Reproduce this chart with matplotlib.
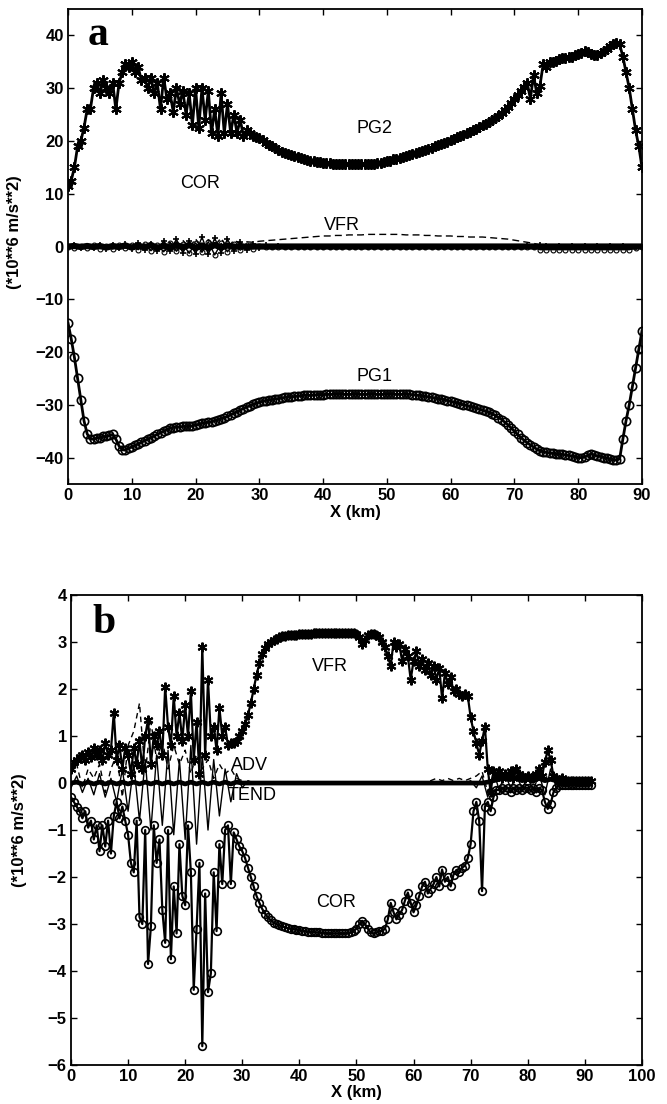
import numpy as np
import matplotlib.pyplot as plt

plt.rcParams['font.family'] = ['Liberation Sans', 'DejaVu Sans']

# grilles en x (km)
x_a = np.arange(0, 90.01, 0.5)
x_a1 = np.arange(0, 90.01, 1.0)
x_b = np.arange(0, 91.01, 0.5)
x_b1 = np.arange(0, 91.01, 1.0)

# panneau a : termes du bilan (*10**6 m/s**2)
pg2_a = [11.5, 12.5, 15.0, 19.0, 20.0, 22.5, 26.0, 26.0, 30.0, 31.0,
         29.0, 31.5, 30.0, 29.0, 31.0, 26.0, 31.0, 33.0, 34.5, 34.0,
         35.0, 33.0, 34.0, 31.5, 32.0, 30.0, 32.0, 29.0, 31.0, 26.0,
         32.0, 28.0, 29.0, 25.5, 30.0, 27.0, 29.5, 25.0, 29.0, 23.0,
         30.0, 22.5, 30.0, 24.0, 29.5, 21.5, 26.0, 21.0, 29.0, 21.5,
         27.0, 21.5, 25.0, 21.5, 24.0, 21.0, 22.0, 21.5, 21.0, 20.8,
         20.5, 20.1, 19.7, 19.3, 19.0, 18.6, 18.3, 18.0, 17.8, 17.5,
         17.3, 17.1, 17.0, 16.8, 16.6, 16.4, 16.3, 16.2, 16.1, 16.0,
         15.9, 15.8, 15.8, 15.7, 15.7, 15.6, 15.6, 15.6, 15.6, 15.6,
         15.6, 15.6, 15.6, 15.6, 15.6, 15.7, 15.7, 15.8, 15.9, 16.0,
         16.2, 16.3, 16.5, 16.6, 16.8, 17.0, 17.1, 17.3, 17.5, 17.7,
         17.9, 18.1, 18.3, 18.5, 18.7, 19.0, 19.2, 19.4, 19.7, 19.9,
         20.2, 20.4, 20.7, 21.0, 21.2, 21.5, 21.7, 22.0, 22.3, 22.6,
         23.0, 23.3, 23.6, 24.0, 24.3, 24.8, 25.3, 25.9, 26.5, 27.2,
         28.0, 28.8, 29.5, 30.2, 31.0, 28.0, 32.5, 29.0, 30.5, 34.5,
         34.0, 35.0, 35.0, 35.2, 35.5, 35.7, 35.8, 35.9, 36.0, 36.2,
         36.5, 36.7, 37.0, 36.8, 36.5, 36.3, 36.3, 36.6, 37.0, 37.5,
         38.0, 38.3, 38.5, 38.3, 36.0, 33.0, 30.0, 26.0, 22.0, 19.0,
         15.0]

pg1_a = [-14.5, -17.5, -21.0, -25.0, -29.0, -33.0, -35.5, -36.5, -36.5, -36.3,
         -36.2, -36.0, -36.0, -35.8, -35.6, -36.5, -37.8, -38.5, -38.6, -38.2,
         -38.0, -37.7, -37.4, -37.1, -36.8, -36.5, -36.2, -35.9, -35.6, -35.3,
         -35.0, -34.7, -34.4, -34.3, -34.2, -34.2, -34.1, -34.1, -34.1, -34.0,
         -33.8, -33.7, -33.5, -33.4, -33.3, -33.2, -33.0, -32.8, -32.6, -32.4,
         -32.2, -31.9, -31.6, -31.3, -31.0, -30.7, -30.4, -30.2, -29.9, -29.7,
         -29.5, -29.3, -29.2, -29.1, -29.0, -28.9, -28.8, -28.7, -28.6, -28.5,
         -28.5, -28.4, -28.3, -28.3, -28.2, -28.2, -28.2, -28.1, -28.1, -28.1,
         -28.1, -28.0, -28.0, -28.0, -28.0, -28.0, -28.0, -28.0, -28.0, -28.0,
         -28.0, -28.0, -28.0, -28.0, -28.0, -28.0, -28.0, -28.0, -28.0, -28.0,
         -28.0, -28.0, -28.0, -28.0, -28.0, -28.0, -28.0, -28.0, -28.1, -28.1,
         -28.2, -28.3, -28.4, -28.5, -28.6, -28.7, -28.8, -28.9, -29.0, -29.2,
         -29.3, -29.5, -29.6, -29.8, -30.0, -30.1, -30.3, -30.4, -30.6, -30.8,
         -31.0, -31.2, -31.4, -31.7, -32.0, -32.4, -32.8, -33.3, -33.8, -34.4,
         -35.0, -35.6, -36.2, -36.7, -37.2, -37.6, -38.0, -38.4, -38.7, -38.9,
         -39.0, -39.1, -39.2, -39.3, -39.4, -39.4, -39.5, -39.6, -39.7, -39.8,
         -40.0, -40.0, -39.9, -39.6, -39.3, -39.5, -39.7, -39.8, -40.0, -40.1,
         -40.3, -40.4, -40.5, -40.2, -36.5, -33.0, -30.0, -26.5, -23.0, -19.5,
         -16.0]

vfr_a = [0.0, 0.1, -0.2, 0.2, 0.1, -0.1, 0.3, 0.0, 0.2, -0.2,
         0.3, -0.3, 0.5, -0.4, 0.6, -0.2, 0.8, -0.5, 1.2, -0.3,
         1.5, -0.6, 1.3, 0.2, 1.6, -0.3, 1.2, 0.6, 0.9, 0.8,
         1.0, 1.1, 1.2, 1.3, 1.4, 1.5, 1.6, 1.7, 1.8, 1.9,
         2.0, 2.0, 2.1, 2.1, 2.2, 2.2, 2.2, 2.3, 2.3, 2.3,
         2.3, 2.3, 2.3, 2.2, 2.2, 2.2, 2.1, 2.1, 2.0, 2.0,
         2.0, 1.9, 1.9, 1.8, 1.8, 1.8, 1.7, 1.6, 1.5, 1.4,
         1.2, 1.0, 0.8, 0.6, 0.3, 0.2, 0.2, 0.1, 0.1, 0.1,
         0.1, 0.1, 0.1, 0.1, 0.1, 0.1, 0.1, 0.1, 0.0, 0.0,
         0.0]

adv_a = [0.0, 0.2, -0.3, 0.1, -0.2, 0.3, -0.4, 0.2, -0.3, 0.4,
         -0.5, 0.6, -0.7, 0.5, -0.9, 1.1, -0.8, 1.4, -1.2, 1.0,
         -1.4, 1.8, -1.5, 1.6, -1.2, 1.4, -0.9, 0.8, -0.6, 0.5,
         -0.3, 0.2, -0.1, 0.1, 0.0, 0.0, 0.0, 0.0, 0.0, 0.0,
         0.0, 0.0, 0.0, 0.0, 0.0, 0.0, 0.0, 0.0, 0.0, 0.0,
         0.0, 0.0, 0.0, 0.0, 0.0, 0.0, 0.0, 0.0, 0.0, 0.0,
         0.0, 0.0, 0.0, 0.0, 0.0, 0.0, 0.0, 0.0, 0.0, 0.0,
         0.0, 0.0, 0.1, -0.1, 0.2, 0.1, 0.0, 0.1, 0.0, 0.1,
         0.0, 0.1, 0.0, 0.1, 0.0, 0.1, 0.0, 0.1, 0.0, 0.0,
         0.0]

tend_a = [0.0, -0.2, 0.1, -0.3, 0.2, -0.4, 0.1, -0.5, 0.3, -0.3,
          0.2, -0.6, 0.4, -0.8, 0.3, -1.0, 0.6, -0.9, 0.5, -1.3,
          0.7, -1.1, 0.9, -1.6, 0.6, -1.0, 0.5, -0.7, 0.3, -0.4,
          0.1, -0.1, 0.0, 0.0, 0.0, 0.0, 0.0, 0.0, 0.0, 0.0,
          0.0, 0.0, 0.0, 0.0, 0.0, 0.0, 0.0, 0.0, 0.0, 0.0,
          0.0, 0.0, 0.0, 0.0, 0.0, 0.0, 0.0, 0.0, 0.0, 0.0,
          0.0, 0.0, 0.0, 0.0, 0.0, 0.0, 0.0, 0.0, 0.0, 0.0,
          0.0, 0.0, 0.0, 0.0, -0.6, -0.6, -0.6, -0.6, -0.6, -0.6,
          -0.6, -0.6, -0.6, -0.6, -0.6, -0.6, -0.6, -0.6, -0.6, -0.3,
          0.0]

bal_a = [0.0, 0.1, -0.1, 0.1, -0.1, 0.1, -0.2, 0.1, -0.1, 0.2,
         -0.2, 0.2, -0.2, 0.3, -0.3, 0.2, -0.3, 0.3, -0.2, 0.3,
         -0.3, 0.2, -0.3, 0.3, -0.2, 0.2, -0.1, 0.1, -0.1, 0.0,
         0.0, 0.0, 0.0, 0.0, 0.0, 0.0, 0.0, 0.0, 0.0, 0.0,
         0.0, 0.0, 0.0, 0.0, 0.0, 0.0, 0.0, 0.0, 0.0, 0.0,
         0.0, 0.0, 0.0, 0.0, 0.0, 0.0, 0.0, 0.0, 0.0, 0.0,
         0.0, 0.0, 0.0, 0.0, 0.0, 0.0, 0.0, 0.0, 0.0, 0.0,
         0.0, 0.0, 0.0, 0.0, 0.0, 0.0, 0.0, 0.0, 0.0, 0.0,
         0.0, 0.0, 0.0, 0.0, 0.0, 0.0, 0.0, 0.0, 0.0, 0.0,
         0.0]

# panneau b
vfr_b = [0.30, 0.45, 0.50, 0.55, 0.60, 0.50, 0.65, 0.55, 0.75, 0.60,
         0.70, 0.50, 0.85, 0.60, 0.70, 1.50, 0.50, 0.80, 0.30, 0.75,
         0.60, 0.20, 0.75, 0.40, 0.90, 0.30, 1.00, 1.35, 0.40, 1.00,
         0.80, 1.10, 0.60, 2.05, 1.20, 0.80, 1.85, 1.00, 1.50, 0.90,
         1.65, 1.00, 1.95, 0.50, 1.30, 0.20, 2.90, 0.60, 2.20, 1.00,
         1.20, 0.70, 1.60, 1.00, 1.20, 0.80, 0.85, 0.85, 0.90, 1.00,
         1.10, 1.25, 1.45, 1.70, 2.00, 2.30, 2.55, 2.75, 2.88, 2.95,
         3.00, 3.04, 3.07, 3.10, 3.12, 3.13, 3.14, 3.15, 3.16, 3.16,
         3.17, 3.17, 3.18, 3.18, 3.18, 3.19, 3.19, 3.19, 3.20, 3.20,
         3.20, 3.20, 3.20, 3.20, 3.20, 3.20, 3.20, 3.20, 3.20, 3.20,
         3.18, 3.10, 2.95, 3.05, 3.15, 3.18, 3.18, 3.15, 3.10, 3.00,
         2.90, 2.70, 2.50, 3.00, 2.90, 2.95, 2.60, 2.85, 2.70, 2.20,
         2.60, 2.80, 2.50, 2.65, 2.40, 2.55, 2.30, 2.50, 2.20, 2.45,
         1.80, 2.35, 2.10, 2.25, 1.95, 2.00, 1.90, 1.85, 1.90, 1.85,
         1.40, 1.10, 0.85, 0.60, 0.90, 1.20, 0.30, -0.20, 0.25, 0.15,
         0.25, 0.10, 0.20, 0.15, 0.25, 0.10, 0.30, 0.20, 0.15, 0.10,
         0.15, 0.10, 0.10, 0.20, 0.30, 0.15, 0.45, 0.70, 0.50, 0.15,
         0.10, 0.05, 0.10, 0.05, 0.05, 0.05, 0.05, 0.05, 0.05, 0.05,
         0.05, 0.05, 0.05]

cor_b = [-0.30, -0.40, -0.50, -0.60, -0.75, -0.60, -0.95, -0.80, -1.20, -0.90,
         -1.45, -0.90, -1.35, -0.80, -1.50, -0.70, -0.40, -0.75, -0.50, -0.80,
         -1.10, -1.70, -1.90, -0.80, -2.85, -3.00, -1.00, -3.85, -3.05, -0.90,
         -1.70, -1.20, -2.70, -3.40, -1.00, -3.75, -2.20, -3.20, -1.30, -2.40,
         -2.60, -0.90, -1.90, -4.40, -3.10, -1.70, -5.60, -2.35, -4.45, -4.05,
         -1.90, -3.15, -1.30, -2.15, -1.00, -0.90, -2.15, -1.05, -1.20, -1.35,
         -1.45, -1.60, -1.80, -2.00, -2.20, -2.40, -2.55, -2.68, -2.78, -2.86,
         -2.92, -2.97, -3.00, -3.03, -3.05, -3.07, -3.09, -3.10, -3.11, -3.12,
         -3.13, -3.14, -3.15, -3.16, -3.17, -3.17, -3.18, -3.18, -3.19, -3.19,
         -3.20, -3.20, -3.20, -3.20, -3.20, -3.20, -3.20, -3.20, -3.18, -3.15,
         -3.10, -3.00, -2.93, -3.00, -3.10, -3.18, -3.20, -3.18, -3.15, -3.15,
         -3.10, -2.90, -2.55, -2.75, -2.90, -2.80, -2.70, -2.50, -2.33, -2.55,
         -2.75, -2.60, -2.40, -2.20, -2.10, -2.35, -2.25, -2.15, -2.00, -2.20,
         -1.84, -2.10, -2.00, -2.20, -1.95, -1.85, -1.90, -1.80, -1.76, -1.60,
         -1.30, -0.60, -0.40, -0.80, -2.30, -0.50, -0.40, -0.60, -0.30, -0.15,
         -0.15, -0.10, -0.15, -0.10, -0.20, -0.10, -0.15, -0.10, -0.15, -0.10,
         -0.10, -0.15, -0.10, -0.20, -0.10, -0.15, -0.40, -0.55, -0.45, -0.20,
         -0.10, -0.05, -0.05, -0.05, -0.05, -0.05, -0.05, -0.05, -0.05, -0.05,
         -0.05, -0.05, -0.05]

adv_b = [0.20, 0.40, -0.10, 0.30, 0.10, 0.40, -0.20, 0.30, 0.60, -0.30,
         0.80, 1.10, 1.70, 0.20, 1.30, 0.50, 0.90, 0.30, 0.80, 0.40,
         0.70, 0.20, 0.60, 0.30, 0.50, 0.10, 0.40, 0.20, 0.30, 0.10,
         0.05, 0.02, 0.02, 0.02, 0.02, 0.02, 0.02, 0.02, 0.02, 0.02,
         0.02, 0.02, 0.02, 0.02, 0.02, 0.02, 0.02, 0.02, 0.02, 0.02,
         0.02, 0.02, 0.02, 0.02, 0.02, 0.02, 0.02, 0.02, 0.02, 0.02,
         0.02, 0.02, 0.02, 0.05, 0.10, 0.05, 0.10, 0.05, 0.10, 0.05,
         0.10, 0.15, 0.25, -0.20, 0.20, 0.10, 0.15, 0.05, 0.10, 0.05,
         0.10, 0.05, 0.15, 0.10, 0.20, 0.05, 0.05, 0.02, 0.02, 0.02,
         0.02, 0.02]

tend_b = [-0.10, 0.15, -0.20, 0.10, -0.25, 0.20, -0.30, 0.10, -0.40, 0.30,
          -0.60, 0.40, -0.80, 0.50, -1.00, 0.60, -0.90, 0.70, -1.10, 0.50,
          -1.20, 0.80, -1.30, 0.60, -1.00, 0.50, -0.70, 0.30, -0.40, 0.20,
          -0.10, 0.05, 0.00, 0.00, 0.00, 0.00, 0.00, 0.00, 0.00, 0.00,
          0.00, 0.00, 0.00, 0.00, 0.00, 0.00, 0.00, 0.00, 0.00, 0.00,
          0.00, 0.00, 0.00, 0.00, 0.00, 0.00, 0.00, 0.00, 0.00, 0.00,
          0.00, 0.00, 0.00, 0.00, 0.00, 0.00, 0.00, 0.00, 0.00, 0.00,
          0.05, -0.10, 0.15, -0.30, 0.25, -0.15, 0.20, -0.10, 0.15, -0.10,
          0.10, -0.15, 0.20, -0.25, 0.30, -0.10, 0.10, -0.05, 0.05, 0.00,
          0.00, 0.00]

pg_b = [0.00, 0.02, -0.02, 0.02, -0.02, 0.02, -0.02, 0.02, -0.02, 0.02,
        -0.02, 0.02, -0.02, 0.02, -0.02, 0.02, -0.02, 0.02, -0.02, 0.02,
        -0.02, 0.02, -0.02, 0.02, -0.02, 0.02, -0.02, 0.02, -0.02, 0.02,
        0.00, 0.00, 0.00, 0.00, 0.00, 0.00, 0.00, 0.00, 0.00, 0.00,
        0.00, 0.00, 0.00, 0.00, 0.00, 0.00, 0.00, 0.00, 0.00, 0.00,
        0.00, 0.00, 0.00, 0.00, 0.00, 0.00, 0.00, 0.00, 0.00, 0.00,
        0.00, 0.00, 0.00, 0.00, 0.00, 0.00, 0.00, 0.00, 0.00, 0.00,
        0.00, 0.00, 0.00, 0.02, 0.05, 0.08, 0.10, 0.08, 0.10, 0.05,
        0.08, 0.05, 0.10, 0.05, 0.08, 0.05, 0.05, 0.05, 0.02, 0.02,
        0.02, 0.02]

asterisk = (6, 2, 0)

fig = plt.figure(figsize=(6.67, 11.04), dpi=100)
ax1 = fig.add_axes([0.102, 0.5616, 0.8605, 0.4302])
ax2 = fig.add_axes([0.1064, 0.0353, 0.856, 0.4257])

# --- panneau a ---
ax1.plot(x_a, pg2_a, color='k', lw=2.0, marker=asterisk, ms=7.5, mew=1.5)
ax1.plot(x_a, pg1_a, color='k', lw=2.0, marker='o', ms=6, mfc='none', mew=1.2)
ax1.plot(x_a1, vfr_a, color='k', lw=1.0, ls=(0, (5, 3)))
ax1.plot(x_a1, adv_a, color='k', lw=1.0, marker='+', ms=5, mew=1.2)
ax1.plot(x_a1, tend_a, color='k', lw=1.0, marker='o', ms=3.5, mfc='none', mew=0.8)
ax1.plot(x_a1, bal_a, color='k', lw=4.5)
ax1.set_xlim(0, 90)
ax1.set_ylim(-45, 45)
ax1.set_xticks(np.arange(0, 91, 10))
ax1.set_yticks(np.arange(-40, 41, 10))

ax1.text(20.7, 12, "COR", ha='center', va='center', fontsize=13)
ax1.text(48.1, 22.4, "PG2", ha='center', va='center', fontsize=13)
ax1.text(43, 4.0, "VFR", ha='center', va='center', fontsize=13)
ax1.text(48.1, -24.7, "PG1", ha='center', va='center', fontsize=13)
ax1.text(0.035, 0.924, "a", transform=ax1.transAxes, fontsize=30,
         fontweight='bold', family='Liberation Serif', va='baseline')

ax1.set_xlabel("X (km)", fontsize=12, fontweight='bold')
ax1.set_ylabel("(*10**6 m/s**2)", fontsize=12, fontweight='bold')
ax1.xaxis.set_label_coords(0.5, -0.045)
ax1.yaxis.set_label_coords(-0.08, 0.53)

# --- panneau b ---
ax2.plot(x_b1, pg_b, color='k', lw=3.4)
ax2.plot(x_b1, adv_b, color='k', lw=1.0, ls=(0, (4, 3)))
ax2.plot(x_b1, tend_b, color='k', lw=1.0)
ax2.plot(x_b, vfr_b, color='k', lw=1.6, marker=asterisk, ms=7, mew=1.5)
ax2.plot(x_b, cor_b, color='k', lw=1.6, marker='o', ms=5.5, mfc='none', mew=1.2)
ax2.set_xlim(0, 100)
ax2.set_ylim(-6, 4)
ax2.set_xticks(np.arange(0, 101, 10))
ax2.set_yticks(np.arange(-6, 5, 1))

ax2.text(45.4, 2.48, "VFR", ha='center', va='center', fontsize=13)
ax2.text(31.2, 0.38, "ADV", ha='center', va='center', fontsize=13)
ax2.text(31.7, -0.26, "TEND", ha='center', va='center', fontsize=13)
ax2.text(46.4, -2.55, "COR", ha='center', va='center', fontsize=13)
ax2.text(0.037, 0.919, "b", transform=ax2.transAxes, fontsize=30,
         fontweight='bold', family='Liberation Serif', va='baseline')

ax2.set_xlabel("X (km)", fontsize=12, fontweight='bold')
ax2.set_ylabel("(*10**6 m/s**2)", fontsize=12, fontweight='bold')
ax2.xaxis.set_label_coords(0.5, -0.043)
ax2.yaxis.set_label_coords(-0.077, 0.5)

for ax in (ax1, ax2):
    ax.tick_params(direction='in', top=True, right=True, length=4, width=1,
                   labelsize=12, pad=3)
    for lab in ax.get_xticklabels() + ax.get_yticklabels():
        lab.set_fontweight('bold')
    for s in ax.spines.values():
        s.set_linewidth(1.3)

fig.savefig("out.png", dpi=100)
